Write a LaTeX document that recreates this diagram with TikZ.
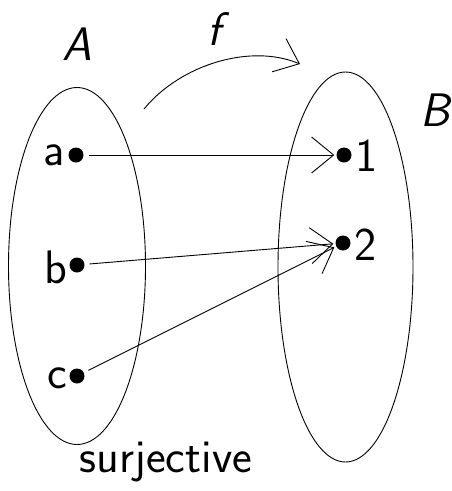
\documentclass[tikz,border=0pt]{standalone}
\usetikzlibrary{arrows.meta,shapes.geometric}
\begin{document}
\begin{tikzpicture}[x=1pt,y=-1pt,
  dot/.style={circle, fill=black, inner sep=0pt, minimum size=15pt},
  lbl/.style={inner sep=0pt, font=\fontsize{47}{52}\selectfont\sffamily},
  tip/.style={-{Straight Barb[length=22pt,width=36pt]}, line width=0.9pt},
  map/.style={tip, shorten <=5pt, shorten >=2pt},
  setshape/.style={draw, ellipse, line width=0.9pt, inner sep=0pt}]
\useasboundingbox (0,0) rectangle (452,491);
% sets
\node[setshape, minimum width=137pt, minimum height=357pt] (setA) at (77,266) {};
\node[setshape, minimum width=135pt, minimum height=390pt] (setB) at (345.5,267) {};
% elements
\node[dot] (a) at (76,155) {};
\node[dot] (b) at (77,265) {};
\node[dot] (c) at (77,376) {};
\node[dot] (one) at (344,155) {};
\node[dot] (two) at (343,243) {};
% labels
\node[lbl, anchor=base east] (la) at (65,165) {a};
\node[lbl, anchor=base east] (lb) at (67,283) {b};
\node[lbl, anchor=base east] (lc) at (67,388) {c};
\node[lbl, anchor=base west] (l1) at (355,171) {1};
\node[lbl, anchor=base west] (l2) at (354,260) {2};
\node[lbl, anchor=base] (lA) at (77,60) {\itshape A};
\node[lbl, anchor=base] (lB) at (435,126) {\itshape B};
\node[lbl, anchor=base] (lf) at (214,45) {\itshape f};
\node[lbl, anchor=base] (ls) at (166,472) {surjective};
% mapping arrows
\draw[map] (a) -- (one);
\draw[map] (b) -- (two);
\draw[map] (c) -- (two);
% f arrow
\coordinate (fs) at (144,109);
\coordinate (fe) at (300,64);
\draw[tip] (fs) .. controls (180,65) and (250,43) .. (fe);
\end{tikzpicture}
\end{document}
